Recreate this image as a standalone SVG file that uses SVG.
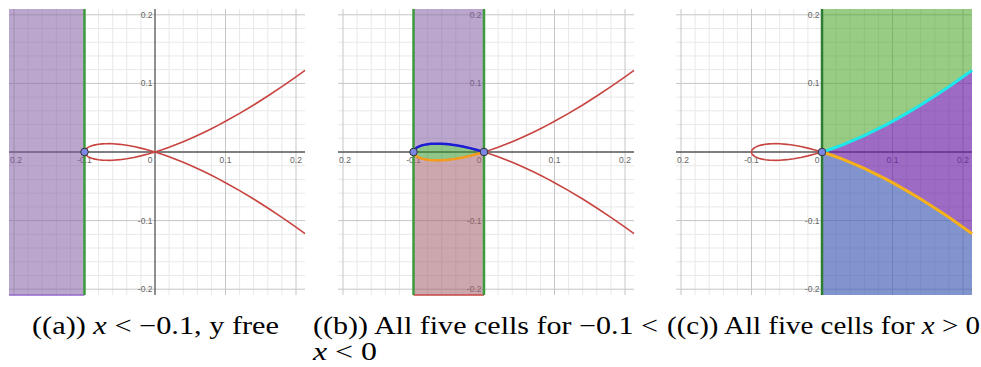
<svg xmlns="http://www.w3.org/2000/svg" xmlns:xlink="http://www.w3.org/1999/xlink" width="981" height="367" viewBox="0 0 981 367">
<style>
.minor{stroke:#e8e8e8;stroke-width:1;fill:none}
.major{stroke:#c6c6c6;stroke-width:1;fill:none}
.axis{stroke:#555;stroke-width:1.3;fill:none}
.tick{font-family:"Liberation Sans",Arial,sans-serif;font-size:8.5px;fill:#666}
.tm{text-anchor:middle}
.te{text-anchor:end}
.red{stroke:#c74440;stroke-width:1.6;fill:none;stroke-linejoin:round}
.dot{fill:#7c86e4;stroke:#333;stroke-width:1}
.vgreen{stroke:#3c9b3c;stroke-width:2.5}
.cap{font-family:"Liberation Serif","Times New Roman",serif;font-size:25px;fill:#000}
</style>
<defs>
<g id="grid">
<path class="minor" d="M-126.9,-143V143M-112.8,-143V143M-98.7,-143V143M-84.6,-143V143M-56.4,-143V143M-42.3,-143V143M-28.2,-143V143M-14.1,-143V143M14.1,-143V143M28.2,-143V143M42.3,-143V143M56.4,-143V143M84.6,-143V143M98.7,-143V143M112.8,-143V143M126.9,-143V143M-146,-123.48H150M-146,-109.76H150M-146,-96.04H150M-146,-82.32H150M-146,-54.88H150M-146,-41.16H150M-146,-27.44H150M-146,-13.72H150M-146,13.72H150M-146,27.44H150M-146,41.16H150M-146,54.88H150M-146,82.32H150M-146,96.04H150M-146,109.76H150M-146,123.48H150"/>
<path class="major" d="M-141,-143V143M-70.5,-143V143M70.5,-143V143M141,-143V143M-146,-137.2H150M-146,-68.6H150M-146,68.6H150M-146,137.2H150"/>
<path class="axis" d="M-146,0H150M0,-143V143"/>
<g class="tick">
<text class="tm" x="-139" y="10.5">0.2</text>
<text class="tm" x="-70.5" y="10.5">-0.1</text>
<text class="te" x="-2.5" y="10.5">0</text>
<text class="tm" x="70.5" y="10.5">0.1</text>
<text class="tm" x="141" y="10.5">0.2</text>
<text class="te" x="-2.5" y="-134.2">0.2</text>
<text class="te" x="-2.5" y="-65.6">0.1</text>
<text class="te" x="-2.5" y="71.6">-0.1</text>
<text class="te" x="-2.5" y="140.2">-0.2</text>
</g>
</g>
<path id="redcurve" class="red" d="M150,-81.645L141,-75.148 126.9,-65.339 112.8,-55.967 98.7,-47.05 84.6,-38.612 70.5,-30.679 63.45,-26.912 56.4,-23.284 49.35,-19.799 42.3,-16.464 35.25,-13.284 28.2,-10.267 21.15,-7.42 14.1,-4.753 7.05,-2.275 0,0 -3.525,-1.057 -7.05,-2.058 -14.1,-3.881 -21.15,-5.445 -28.2,-6.721 -35.25,-7.67 -42.3,-8.232 -45.825,-8.342 -49.35,-8.317 -52.875,-8.135 -56.4,-7.761 -59.925,-7.141 -63.45,-6.174 -66.975,-4.608 -69.09,-3.007 -69.795,-2.148 -70.15,-1.526 -70.5,0 -70.15,1.526 -69.795,2.148 -69.09,3.007 -66.975,4.608 -63.45,6.174 -59.925,7.141 -56.4,7.761 -52.875,8.135 -49.35,8.317 -45.825,8.342 -42.3,8.232 -35.25,7.67 -28.2,6.721 -21.15,5.445 -14.1,3.881 -7.05,2.058 -3.525,1.057 0,0 7.05,2.275 14.1,4.753 21.15,7.42 28.2,10.267 35.25,13.284 42.3,16.464 49.35,19.799 56.4,23.284 63.45,26.912 70.5,30.679 84.6,38.612 98.7,47.05 112.8,55.967 126.9,65.339 141,75.148 150,81.645"/>
</defs>

<g id="panel-a" transform="translate(155,152)">
<use href="#grid"/>
<rect x="-146" y="-143" width="75.5" height="286" fill="#835da6" fill-opacity="0.55"/>
<path d="M-146,143H-70.5" stroke="#9066c8" stroke-width="1.5"/>
<use href="#redcurve"/>
<path class="vgreen" d="M-70.5,-143V143"/>
<circle class="dot" cx="-70.5" cy="0" r="3.8"/>
</g>

<g id="panel-b" transform="translate(484,152)">
<use href="#grid"/>
<path fill="#835da6" fill-opacity="0.55" d="M-70.5,-143H0V0L-3.525,-1.057 -7.05,-2.058 -14.1,-3.881 -21.15,-5.445 -28.2,-6.721 -35.25,-7.67 -42.3,-8.232 -45.825,-8.342 -49.35,-8.317 -52.875,-8.135 -56.4,-7.761 -59.925,-7.141 -63.45,-6.174 -66.975,-4.608 -69.09,-3.007 -69.795,-2.148 -70.15,-1.526 -70.5,0Z"/>
<path fill="#35962a" fill-opacity="0.55" d="M0,0L-3.525,-1.057 -7.05,-2.058 -14.1,-3.881 -21.15,-5.445 -28.2,-6.721 -35.25,-7.67 -42.3,-8.232 -45.825,-8.342 -49.35,-8.317 -52.875,-8.135 -56.4,-7.761 -59.925,-7.141 -63.45,-6.174 -66.975,-4.608 -69.09,-3.007 -69.795,-2.148 -70.15,-1.526 -70.5,0 -70.15,1.526 -69.795,2.148 -69.09,3.007 -66.975,4.608 -63.45,6.174 -59.925,7.141 -56.4,7.761 -52.875,8.135 -49.35,8.317 -45.825,8.342 -42.3,8.232 -35.25,7.67 -28.2,6.721 -21.15,5.445 -14.1,3.881 -7.05,2.058 -3.525,1.057Z"/>
<path fill="#a2616c" fill-opacity="0.55" d="M-70.5,143H0V0L-3.525,1.057 -7.05,2.058 -14.1,3.881 -21.15,5.445 -28.2,6.721 -35.25,7.67 -42.3,8.232 -45.825,8.342 -49.35,8.317 -52.875,8.135 -56.4,7.761 -59.925,7.141 -63.45,6.174 -66.975,4.608 -69.09,3.007 -69.795,2.148 -70.15,1.526 -70.5,0Z"/>
<path d="M-70.5,143H0" stroke="#c74440" stroke-width="1.5"/>
<use href="#redcurve"/>
<path fill="none" stroke="#1c1cd6" stroke-width="2.5" stroke-linejoin="round" d="M0,0L-3.525,-1.057 -7.05,-2.058 -14.1,-3.881 -21.15,-5.445 -28.2,-6.721 -35.25,-7.67 -42.3,-8.232 -45.825,-8.342 -49.35,-8.317 -52.875,-8.135 -56.4,-7.761 -59.925,-7.141 -63.45,-6.174 -66.975,-4.608 -69.09,-3.007 -69.795,-2.148 -70.15,-1.526 -70.5,0"/>
<path fill="none" stroke="#f59c1a" stroke-width="2.5" stroke-linejoin="round" d="M0,0L-3.525,1.057 -7.05,2.058 -14.1,3.881 -21.15,5.445 -28.2,6.721 -35.25,7.67 -42.3,8.232 -45.825,8.342 -49.35,8.317 -52.875,8.135 -56.4,7.761 -59.925,7.141 -63.45,6.174 -66.975,4.608 -69.09,3.007 -69.795,2.148 -70.15,1.526 -70.5,0"/>
<path class="vgreen" d="M-70.5,-143V143M0,-143V143"/>
<circle class="dot" cx="-70.5" cy="0" r="3.8"/>
<circle class="dot" cx="0" cy="0" r="3.8"/>
</g>

<g id="panel-c" transform="translate(822,152)">
<use href="#grid"/>
<path fill="#44a01f" fill-opacity="0.55" d="M0,-143H150V-81.645L141,-75.148 126.9,-65.339 112.8,-55.967 98.7,-47.05 84.6,-38.612 70.5,-30.679 63.45,-26.912 56.4,-23.284 49.35,-19.799 42.3,-16.464 35.25,-13.284 28.2,-10.267 21.15,-7.42 14.1,-4.753 7.05,-2.275 0,0Z"/>
<path fill="#681ba4" fill-opacity="0.65" d="M0,0L7.05,-2.275 14.1,-4.753 21.15,-7.42 28.2,-10.267 35.25,-13.284 42.3,-16.464 49.35,-19.799 56.4,-23.284 63.45,-26.912 70.5,-30.679 84.6,-38.612 98.7,-47.05 112.8,-55.967 126.9,-65.339 141,-75.148 150,-81.645V81.645L141,75.148 126.9,65.339 112.8,55.967 98.7,47.05 84.6,38.612 70.5,30.679 63.45,26.912 56.4,23.284 49.35,19.799 42.3,16.464 35.25,13.284 28.2,10.267 21.15,7.42 14.1,4.753 7.05,2.275Z"/>
<path fill="#3d5ab2" fill-opacity="0.65" d="M0,143H150V81.645L141,75.148 126.9,65.339 112.8,55.967 98.7,47.05 84.6,38.612 70.5,30.679 63.45,26.912 56.4,23.284 49.35,19.799 42.3,16.464 35.25,13.284 28.2,10.267 21.15,7.42 14.1,4.753 7.05,2.275 0,0Z"/>
<use href="#redcurve"/>
<path fill="none" stroke="#1ee8e8" stroke-width="3" stroke-linejoin="round" d="M0,0L7.05,-2.275 14.1,-4.753 21.15,-7.42 28.2,-10.267 35.25,-13.284 42.3,-16.464 49.35,-19.799 56.4,-23.284 63.45,-26.912 70.5,-30.679 84.6,-38.612 98.7,-47.05 112.8,-55.967 126.9,-65.339 141,-75.148 150,-81.645"/>
<path fill="none" stroke="#f7b21b" stroke-width="3" stroke-linejoin="round" d="M0,0L7.05,2.275 14.1,4.753 21.15,7.42 28.2,10.267 35.25,13.284 42.3,16.464 49.35,19.799 56.4,23.284 63.45,26.912 70.5,30.679 84.6,38.612 98.7,47.05 112.8,55.967 126.9,65.339 141,75.148 150,81.645"/>
<path d="M0,-143V143" stroke="#2e7d32" stroke-width="2.5"/>
<circle class="dot" cx="0" cy="0" r="3.8"/>
</g>

<g id="captions">
<text class="cap" x="32" y="334" textLength="247" lengthAdjust="spacingAndGlyphs">((a)) <tspan font-style="italic">x</tspan> &lt; −0.1, y free</text>
<text class="cap" x="313" y="334" textLength="345" lengthAdjust="spacingAndGlyphs">((b)) All five cells for −0.1 &lt;</text>
<text class="cap" x="313" y="360" textLength="64" lengthAdjust="spacingAndGlyphs"><tspan font-style="italic">x</tspan> &lt; 0</text>
<text class="cap" x="667" y="334" textLength="313" lengthAdjust="spacingAndGlyphs">((c)) All five cells for <tspan font-style="italic">x</tspan> &gt; 0</text>
</g>
</svg>
